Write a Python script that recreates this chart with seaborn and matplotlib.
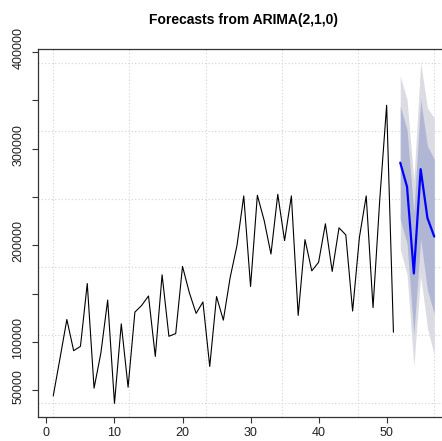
import numpy as np
import pandas as pd
import matplotlib
matplotlib.use("Agg")
import matplotlib.pyplot as plt
import matplotlib.transforms as mtransforms
import seaborn as sns

# ---- data ----
obs_t = list(range(1, 52))
obs_values = [44100, 83300, 123200, 90900, 95400, 160400, 52100, 88500, 143300, 36400,
              118700, 53100, 130800, 137800, 147500, 85000, 169400, 105800, 108600, 178100,
              151000, 129500, 141300, 74600, 146900, 122500, 166500, 199600, 251000, 157300,
              251700, 225600, 190900, 252700, 204800, 251000, 127400, 205800, 173500, 182300,
              222200, 172900, 218000, 210700, 131900, 208300, 251000, 135400, 248200, 344800,
              110000]
fc_t = [52, 53, 54, 55, 56, 57]
fc_mean = [285400, 260400, 170800, 278700, 228100, 209000]
fc_lo80 = [226900, 201500, 108000, 206700, 153700, 129000]
fc_hi80 = [343900, 319300, 233600, 350700, 302500, 289000]
fc_lo95 = [195800, 170200, 74600, 168500, 114200, 86400]
fc_hi95 = [375000, 350600, 267000, 388900, 342000, 331600]
x_ticks = [0, 10, 20, 30, 40, 50]
y_ticks = [50000, 100000, 150000, 200000, 250000, 300000, 350000, 400000]
y_tick_labels = ["50000", "100000", "", "200000", "", "300000", "", "400000"]
title = "Forecasts from ARIMA(2,1,0)"

obs_df = pd.DataFrame({"t": obs_t, "value": obs_values})
fc_df = pd.DataFrame({"t": fc_t, "mean": fc_mean, "lo80": fc_lo80, "hi80": fc_hi80,
                      "lo95": fc_lo95, "hi95": fc_hi95})

sns.set_style("white")
plt.rcParams["font.family"] = ["Liberation Sans", "DejaVu Sans"]

fig = plt.figure(figsize=(4.42, 4.41), dpi=100)
ax = fig.add_axes([38 / 442, (441 - 417) / 441, (449.5 - 38) / 442, (417 - 49) / 441])

# data ranges (R-style 4% expansion)
xmin, xmax = min(obs_t), max(fc_t)
ymin = min(min(obs_values), min(fc_lo95))
ymax = max(max(obs_values), max(fc_hi95))
xr, yr = xmax - xmin, ymax - ymin

# grid (R grid(): equally spaced over the data range)
for gx in np.linspace(xmin, xmax, 6):
    ax.axvline(gx, color="#D3D3D3", lw=0.8, ls=(0, (1, 2)), zorder=0)
for gy in np.linspace(ymin, ymax, 6):
    ax.axhline(gy, color="#D3D3D3", lw=0.8, ls=(0, (1, 2)), zorder=0)

ax.fill_between(fc_df["t"], fc_df["lo95"], fc_df["hi95"], color="#DBDBE3", lw=0, zorder=1)
ax.fill_between(fc_df["t"], fc_df["lo80"], fc_df["hi80"], color="#B0B6D3", lw=0, zorder=2)

sns.lineplot(data=obs_df, x="t", y="value", ax=ax, color="black", lw=0.8, zorder=3)
sns.lineplot(data=fc_df, x="t", y="mean", ax=ax, color="#0000FF", lw=1.6, zorder=4)

ax.set_xlim(xmin - 0.04 * xr, xmax + 0.04 * xr)
ax.set_ylim(ymin - 0.04 * yr, ymax + 0.04 * yr)
ax.set_xlabel("")
ax.set_ylabel("")

ax.set_xticks(x_ticks)
ax.set_xticklabels([str(v) for v in x_ticks])
ax.set_yticks(y_ticks)
ax.set_yticklabels(y_tick_labels, rotation=90, va="center", ha="center")

ax.tick_params(axis="both", which="both", direction="out", length=4.5, width=0.8,
               color="#333333", labelsize=9, labelcolor="#222222")
ax.tick_params(axis="y", pad=9.5)
ax.tick_params(axis="x", pad=3.0, bottom=True)
ax.tick_params(axis="y", left=True)

# shift rotated y labels slightly upward, as in the reference
offset = mtransforms.ScaledTranslation(0, 4 / 100, fig.dpi_scale_trans)
for lab in ax.get_yticklabels():
    lab.set_transform(lab.get_transform() + offset)

for s in ax.spines.values():
    s.set_visible(True)
    s.set_color("#333333")
    s.set_linewidth(0.9)

cx = (38 + 449.5) / 2 / 442
fig.text(cx, 1 - 20 / 441, title, ha="center", va="center", fontsize=10,
         fontweight="bold", color="black")

fig.savefig("out.png", dpi=100)
